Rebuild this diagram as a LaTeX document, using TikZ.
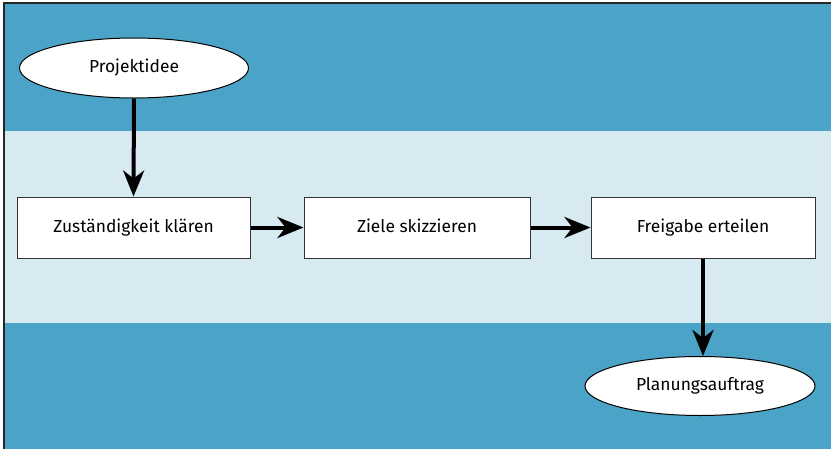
\documentclass[tikz,border=0pt]{standalone}
\usepackage{fontspec}
\setmainfont{Fira Sans}
\usetikzlibrary{shapes.geometric,arrows.meta}
\definecolor{bandDark}{HTML}{4BA4C7}
\definecolor{bandLight}{HTML}{D7E9F1}
\tikzset{
  lbl/.style={font=\fontsize{17.4}{20}\selectfont, text height=12pt, text depth=3pt},
  stepbox/.style={lbl, draw=black!80, line width=1pt, fill=white, minimum width=233pt, minimum height=61pt, inner sep=0pt},
  terminal/.style={lbl, ellipse, draw=black, line width=1pt, fill=white, minimum width=229pt, minimum height=60pt, inner sep=0pt},
  flow/.style={line width=4pt, -{Stealth[length=26pt,width=21pt,inset=8pt]}}
}
\begin{document}
\begin{tikzpicture}[x=1pt,y=-1pt]
\useasboundingbox (0,0) rectangle (831,448);
\clip (0,0) rectangle (831,448);
\fill[bandDark] (4,3) rectangle (840,131);
\fill[bandLight] (4,131) rectangle (840,323);
\fill[bandDark] (4,323) rectangle (840,460);
\draw[line width=1.8pt, black!85] (4,460) -- (4,3) -- (840,3);
\node[terminal] (idee) at (134,68) {Projektidee};
\node[stepbox, minimum width=233pt] (zust) at (133.5,227.5) {Zuständigkeit klären};
\node[stepbox, minimum width=226pt] (ziele) at (417,227.5) {Ziele skizzieren};
\node[stepbox, minimum width=224pt] (frei) at (703,227.5) {Freigabe erteilen};
\node[terminal, minimum width=230pt, minimum height=59pt] (plan) at (700,386) {Planungsauftrag};
\draw[flow] (idee.south) -- (zust.north);
\draw[flow] (zust.east) -- (ziele.west);
\draw[flow] (ziele.east) -- (frei.west);
\draw[flow] (frei.south) -- (frei.south |- plan.north);
\end{tikzpicture}
\end{document}
